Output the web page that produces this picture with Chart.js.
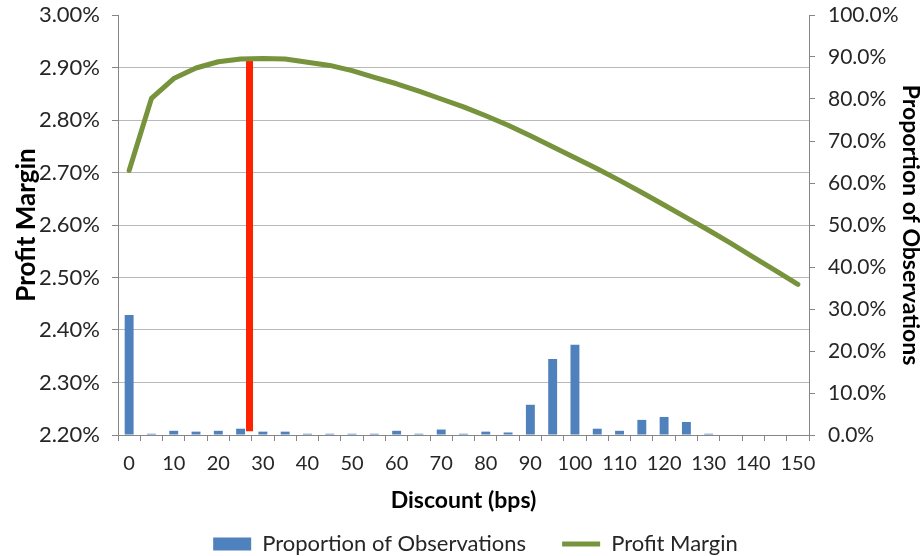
<!DOCTYPE html>
<html>
<head>
<meta charset="utf-8">
<script src="https://cdn.jsdelivr.net/npm/chart.js@4/dist/chart.umd.min.js"></script>
<style>
  html, body { margin: 0; padding: 0; background: #ffffff; }
  #wrap { width: 921px; height: 556px; position: relative; }
</style>
</head>
<body>
<div id="wrap"><canvas id="c" width="921" height="556"></canvas></div>
<script>
// ---- Data ----
const discounts = [0, 5, 10, 15, 20, 25, 30, 35, 40, 45, 50, 55, 60, 65, 70, 75,
                   80, 85, 90, 95, 100, 105, 110, 115, 120, 125, 130, 135, 140, 145, 150];
// Proportion of Observations (%), right axis
const observations = [28.6, 0.3, 1.0, 0.8, 1.0, 1.5, 0.8, 0.8, 0.3, 0.3, 0.3, 0.3, 1.0, 0.3, 1.3, 0.3,
                      0.8, 0.6, 7.2, 18.1, 21.5, 1.5, 1.0, 3.6, 4.3, 3.1, 0.3, 0, 0, 0, 0];
// Profit Margin (%), left axis
const profitMargin = [2.704, 2.841, 2.879, 2.899, 2.911, 2.916, 2.917, 2.916, 2.910, 2.904, 2.894, 2.881,
                      2.869, 2.855, 2.840, 2.825, 2.808, 2.790, 2.770, 2.749, 2.728, 2.707, 2.685,
                      2.662, 2.638, 2.614, 2.590, 2.565, 2.539, 2.513, 2.487];
// Optimal discount marker (bps) and its vertical extent on the Profit Margin axis
const optimalDiscount = 27;
const markerRange = [2.917, 2.207];
// Axis ranges / ticks
const leftAxis = { min: 2.2, max: 3.0, step: 0.1 };
const rightAxis = { min: 0, max: 100, step: 10 };

const FONT = 'Lato, "Open Sans", "Liberation Sans", sans-serif';
const TEXT = '#262626';
const AXIS = '#868686';
const GRID = '#b9b9b9';

const noLabelPadding = (s) => { s.paddingTop = 0; s.paddingBottom = 0; s.paddingLeft = 0; s.paddingRight = 0; };

const shiftLegend = {
  id: 'shiftLegend',
  afterLayout(chart) {
    const lg = chart.legend;
    if (lg) { lg.left += 15; lg.right += 15; }
  }
};

new Chart(document.getElementById('c'), {
  plugins: [shiftLegend],
  data: {
    labels: discounts,
    datasets: [
      {
        type: 'line',
        label: 'Profit Margin',
        data: profitMargin,
        yAxisID: 'y',
        xAxisID: 'x',
        borderColor: '#77933C',
        backgroundColor: '#77933C',
        borderWidth: 5,
        pointRadius: 0,
        pointStyle: 'line',
        tension: 0,
        borderCapStyle: 'round',
        borderJoinStyle: 'round',
        order: 0
      },
      {
        type: 'line',
        label: 'marker',
        data: markerRange.map(v => ({ x: optimalDiscount, y: v })),
        xAxisID: 'xm',
        yAxisID: 'y',
        borderColor: '#FF2200',
        borderWidth: 7,
        pointRadius: 0,
        borderCapStyle: 'butt',
        order: 1
      },
      {
        type: 'bar',
        label: 'Proportion of Observations',
        data: observations,
        yAxisID: 'y1',
        xAxisID: 'x',
        backgroundColor: '#4F81BD',
        borderWidth: 0,
        pointStyle: 'rect',
        grouped: false,
        categoryPercentage: 1.0,
        barPercentage: 0.4,
        order: 2
      }
    ]
  },
  options: {
    responsive: false,
    animation: false,
    devicePixelRatio: 1,
    layout: { autoPadding: false, padding: { top: 15, bottom: -9, left: 0, right: 0 } },
    plugins: {
      tooltip: { enabled: false },
      legend: {
        position: 'bottom',
        align: 'center',
        labels: {
          filter: (item) => item.text !== 'marker',
          usePointStyle: true,
          pointStyleWidth: 38,
          boxWidth: 38,
          boxHeight: 13,
          padding: 36,
          color: TEXT,
          font: { family: FONT, size: 22 },
          sort: (a, b) => (a.datasetIndex === 2 ? -1 : 1) - (b.datasetIndex === 2 ? -1 : 1)
        }
      }
    },
    scales: {
      x: {
        type: 'category',
        position: 'bottom',
        offset: true,
        afterFit: (s) => { s.height = 62; noLabelPadding(s); },
        grid: { offset: true, drawOnChartArea: false, drawTicks: true, tickLength: 6, color: AXIS },
        border: { display: true, color: AXIS, width: 1 },
        ticks: {
          autoSkip: false, maxRotation: 0, minRotation: 0, padding: 11,
          color: TEXT, font: { family: FONT, size: 20 },
          callback: function (val, idx) { return discounts[idx] % 10 === 0 ? String(discounts[idx]) : ''; }
        },
        title: {
          display: true, text: 'Discount (bps)', color: '#000',
          font: { family: FONT, size: 23, weight: 'bold', lineHeight: 1 },
          padding: { top: 0, bottom: -15 }
        }
      },
      xm: {
        type: 'linear',
        display: false,
        min: discounts[0] - 2.5,
        max: discounts[discounts.length - 1] + 2.5
      },
      y: {
        type: 'linear',
        position: 'left',
        min: leftAxis.min,
        max: leftAxis.max,
        afterFit: (s) => { s.width = 118; noLabelPadding(s); },
        grid: {
          color: (ctx) => (ctx.tick && Math.abs(ctx.tick.value - leftAxis.max) < 1e-6) ? 'rgba(0,0,0,0)' : GRID,
          tickColor: AXIS, tickLength: 6, lineWidth: 1
        },
        border: { display: true, color: AXIS, width: 1 },
        ticks: {
          stepSize: leftAxis.step, padding: 12, color: TEXT,
          font: { family: FONT, size: 22 },
          callback: (v) => Number(v).toFixed(2) + '%'
        },
        title: {
          display: true, text: 'Profit Margin', color: '#000',
          font: { family: FONT, size: 26, weight: 'bold', lineHeight: 1 },
          padding: { top: 14, bottom: 0 }
        }
      },
      y1: {
        type: 'linear',
        position: 'right',
        min: rightAxis.min,
        max: rightAxis.max,
        afterFit: (s) => { s.width = 112; noLabelPadding(s); },
        grid: { drawOnChartArea: false, tickColor: AXIS, tickLength: 6 },
        border: { display: true, color: AXIS, width: 1 },
        ticks: {
          stepSize: rightAxis.step, padding: 13, color: TEXT,
          font: { family: FONT, size: 21 },
          callback: (v) => Number(v).toFixed(1) + '%'
        },
        title: {
          display: true, text: 'Proportion of Observations', color: '#000',
          font: { family: FONT, size: 23, weight: 'bold', lineHeight: 1 },
          padding: { top: -1, bottom: 0 }
        }
      }
    }
  }
});
</script>
</body>
</html>
